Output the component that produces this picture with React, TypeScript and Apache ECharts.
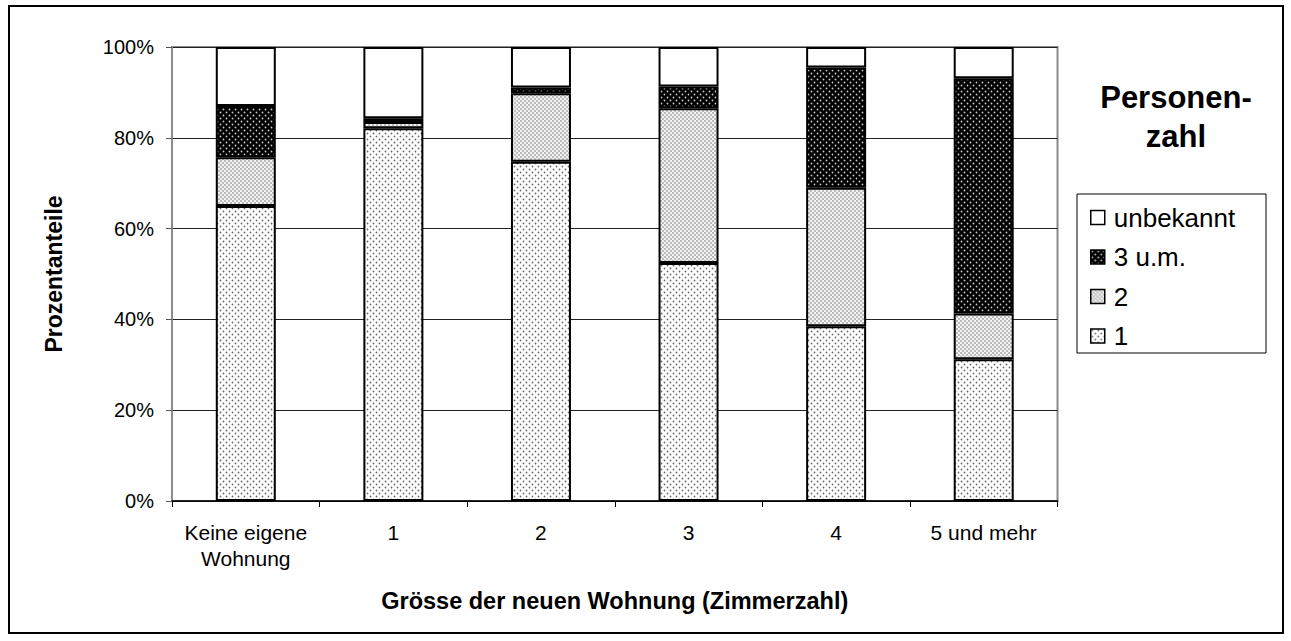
import React, { useEffect, useRef } from "react";
import * as echarts from "echarts";

const categories = ["Keine eigene\nWohnung", "1", "2", "3", "4", "5 und mehr"];
const seriesNames = ["1", "2", "3 u.m.", "unbekannt"];
const pers1 = [65.0, 82.1, 74.7, 52.4, 38.5, 31.2];
const pers2 = [10.7, 1.4, 15.1, 34.1, 30.5, 10.1];
const pers3 = [11.3, 0.8, 1.3, 4.8, 26.5, 51.8];
const persUnb = [13.0, 15.7, 8.9, 8.7, 4.5, 6.9];
const yTicks = [0, 20, 40, 60, 80, 100];

function makePattern(size: number, bg: string, dot: string, r: number, pts: number[][]) {
  const c = document.createElement("canvas");
  c.width = size;
  c.height = size;
  const ctx = c.getContext("2d")!;
  ctx.fillStyle = bg;
  ctx.fillRect(0, 0, size, size);
  ctx.fillStyle = dot;
  pts.forEach(([x, y]) => {
    ctx.beginPath();
    ctx.arc(x, y, r, 0, Math.PI * 2);
    ctx.fill();
  });
  return {
    image: c.toDataURL(),
    repeat: "repeat",
    imageWidth: size,
    imageHeight: size,
  } as any;
}

export default function App() {
  const ref = useRef<HTMLDivElement>(null);
  useEffect(() => {
    if (!ref.current) return;
    const chart = echarts.init(ref.current, null, { renderer: "svg" });
    const p1 = makePattern(6, "#ffffff", "#6a6a6a", 0.9, [[1.5, 1.5], [4.5, 4.5]]);
    const p2 = makePattern(4, "#f2f2f2", "#777777", 0.8, [[1, 1], [3, 3]]);
    const p3 = makePattern(6, "#000000", "#c8c8c8", 0.9, [[1.5, 1.5], [4.5, 4.5]]);
    const fills = [p1, p2, p3, "#ffffff"];
    const values = [pers1, pers2, pers3, persUnb];
    const font = "Liberation Sans, Arial, sans-serif";
    chart.setOption({
      animation: false,
      textStyle: { fontFamily: font, color: "#000" },
      grid: { left: 172, top: 47, right: 233.5, bottom: 140, show: true, borderColor: "#8a8a8a", borderWidth: 2, backgroundColor: "transparent" },
      graphic: [
        { type: "rect", shape: { x: 9, y: 6, width: 1274, height: 627 }, style: { fill: "none", stroke: "#000", lineWidth: 2 }, silent: true },
        { type: "rect", shape: { x: 1077, y: 194, width: 189, height: 159 }, style: { fill: "#fff", stroke: "#000", lineWidth: 1 }, silent: true, z: -1 },
        {
          type: "text",
          x: 1176,
          y: 117,
          style: {
            text: "Personen-\nzahl",
            font: `bold 31px ${font}`,
            lineHeight: 39,
            textAlign: "center",
            textVerticalAlign: "middle",
            fill: "#000",
          },
        },
      ],
      legend: {
        data: ["unbekannt", "3 u.m.", "2", "1"],
        orient: "vertical",
        left: 1090,
        top: 204.5,
        padding: 0,
        itemWidth: 14,
        itemHeight: 14,
        itemGap: 13.5,
        icon: "rect",
        textStyle: { fontSize: 26, lineHeight: 26, color: "#000", fontFamily: font, padding: [0, 0, 0, 4] },
        itemStyle: { borderColor: "#000", borderWidth: 1.5 },
      },
      xAxis: {
        type: "category",
        data: categories,
        name: "Grösse der neuen Wohnung (Zimmerzahl)",
        nameLocation: "middle",
        nameGap: 88,
        nameTextStyle: { fontSize: 23.5, fontWeight: "bold", color: "#000" },
        axisLine: { lineStyle: { color: "#000", width: 1.5 } },
        axisTick: { show: true, length: 6, lineStyle: { color: "#000" } },
        axisLabel: { fontSize: 21, lineHeight: 26, margin: 18, color: "#000", interval: 0 },
      },
      yAxis: {
        type: "value",
        min: 0,
        max: 100,
        interval: 20,
        name: "Prozentanteile",
        nameLocation: "middle",
        nameRotate: 90,
        nameGap: 107,
        nameTextStyle: { fontSize: 23, fontWeight: "bold", color: "#000" },
        axisLine: { show: true, lineStyle: { color: "#8a8a8a", width: 2 } },
        axisTick: { show: true, length: 6, lineStyle: { color: "#555" } },
        axisLabel: { fontSize: 20, margin: 18, color: "#000", formatter: (v: number) => (yTicks.includes(v) ? `${v}%` : "") },
        splitLine: { show: true, lineStyle: { color: "#222", width: 1 } },
      },
      series: seriesNames.map((name, i) => ({
        name,
        type: "bar",
        stack: "total",
        barWidth: 60,
        data: values[i],
        itemStyle: { color: fills[i], borderColor: "#000", borderWidth: 2 },
      })),
    });
    return () => chart.dispose();
  }, []);
  return (
    <div
      ref={ref}
      style={{ position: "fixed", left: 0, top: 0, width: 1291, height: 641, background: "#fff" }}
    />
  );
}
